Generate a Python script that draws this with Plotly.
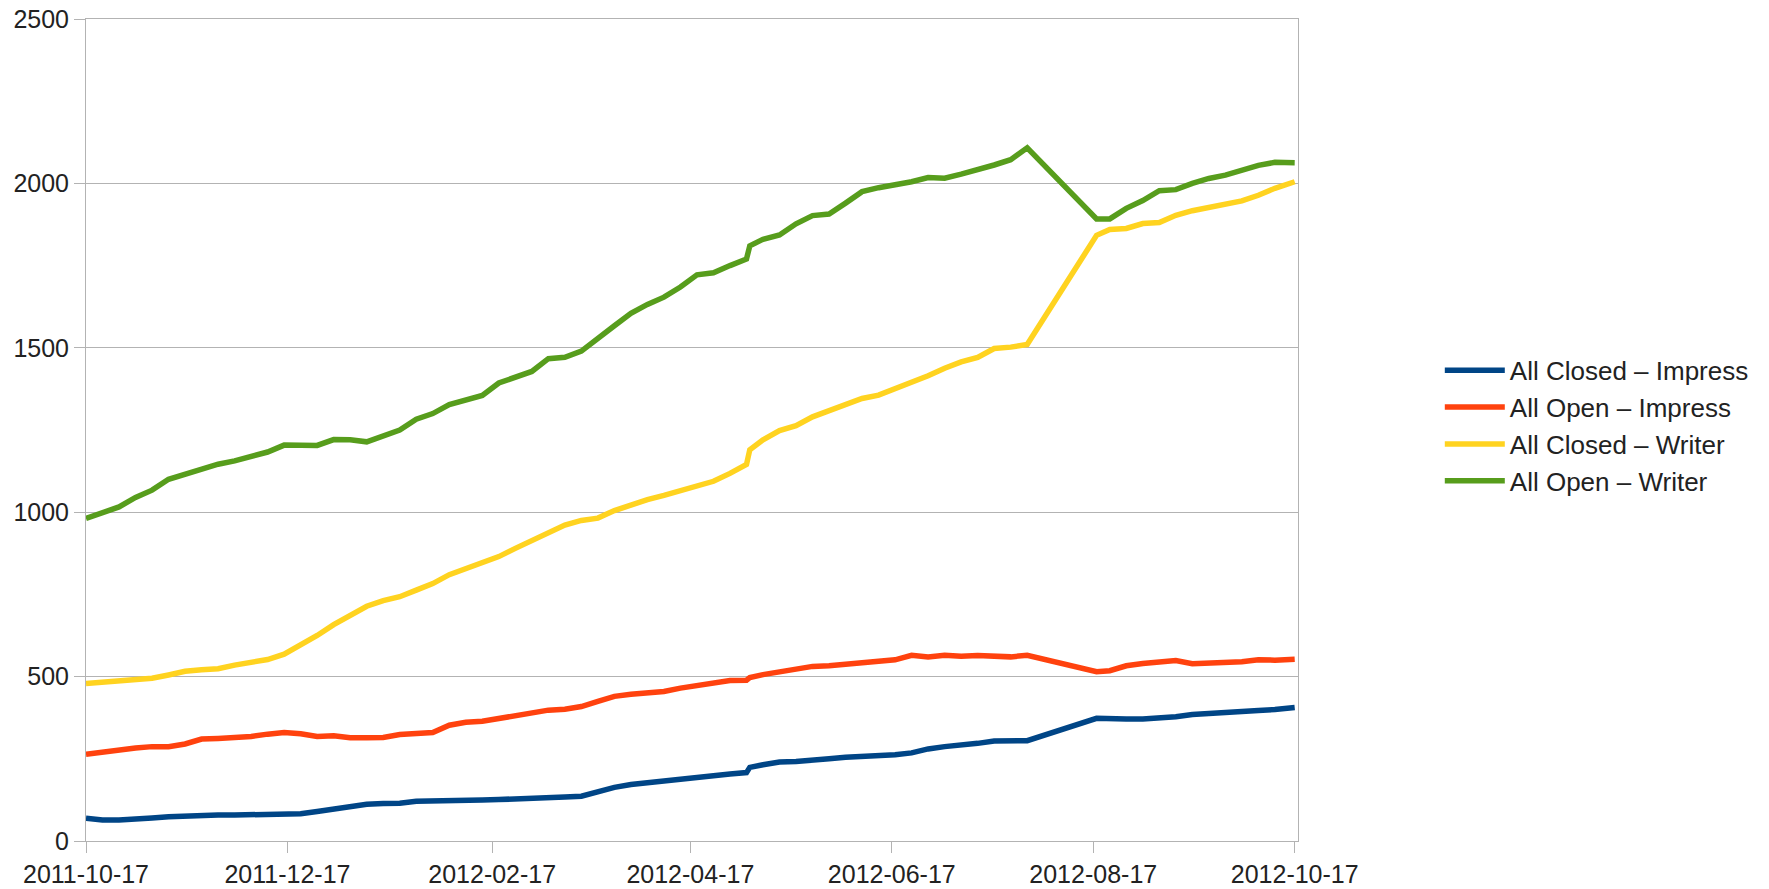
import plotly.graph_objects as go

dates = [
    "2011-10-17", "2011-10-22", "2011-10-27", "2011-11-01", "2011-11-06", "2011-11-11",
    "2011-11-16", "2011-11-21", "2011-11-26", "2011-12-01", "2011-12-06", "2011-12-11",
    "2011-12-16", "2011-12-21", "2011-12-26", "2011-12-31", "2012-01-05", "2012-01-10",
    "2012-01-15", "2012-01-20", "2012-01-25", "2012-01-30", "2012-02-04", "2012-02-09",
    "2012-02-14", "2012-02-19", "2012-02-24", "2012-02-29", "2012-03-05", "2012-03-10",
    "2012-03-15", "2012-03-20", "2012-03-25", "2012-03-30", "2012-04-04", "2012-04-09",
    "2012-04-14", "2012-04-19", "2012-04-24", "2012-04-29", "2012-05-04", "2012-05-05",
    "2012-05-09", "2012-05-14", "2012-05-19", "2012-05-24", "2012-05-29", "2012-06-03",
    "2012-06-08", "2012-06-13", "2012-06-18", "2012-06-23", "2012-06-28", "2012-07-03",
    "2012-07-08", "2012-07-13", "2012-07-18", "2012-07-23", "2012-07-28",
    "2012-08-18", "2012-08-22", "2012-08-27", "2012-09-01", "2012-09-06", "2012-09-11",
    "2012-09-16", "2012-09-21", "2012-09-26", "2012-10-01", "2012-10-06", "2012-10-11",
    "2012-10-17",
]

closed_impress = [
    69, 64, 64, 69, 70, 74, 77, 78, 79, 79, 80, 81,
    82, 83, 90, 97, 107, 112, 114, 115, 121, 123, 125, 127,
    125, 126, 127, 129, 133, 134, 136, 150, 163, 172, 178, 184,
    188, 192, 198, 204, 208, 224, 232, 240, 242, 244, 250, 255,
    256, 259, 262, 268, 280, 287, 291, 297, 304, 305, 305,
    373, 371, 371, 371, 373, 378, 385, 389, 393, 396, 397, 400,
    406,
]

open_impress = [
    264, 271, 278, 283, 287, 287, 295, 310, 312, 313, 318, 325,
    330, 326, 318, 320, 314, 314, 315, 324, 327, 330, 352, 361,
    364, 372, 382, 386, 398, 401, 409, 425, 440, 446, 451, 455,
    465, 474, 481, 488, 489, 497, 506, 513, 521, 531, 533, 537,
    542, 546, 551, 565, 560, 565, 562, 564, 560, 560, 565,
    515, 518, 533, 540, 544, 549, 539, 541, 540, 545, 551, 550,
    553,
]

closed_writer = [
    479, 484, 485, 490, 495, 505, 516, 521, 524, 535, 543, 552,
    568, 595, 625, 658, 688, 714, 731, 743, 763, 783, 810, 828,
    850, 865, 890, 915, 936, 961, 975, 982, 1005, 1022, 1038, 1051,
    1064, 1077, 1094, 1118, 1145, 1190, 1220, 1248, 1263, 1290, 1309, 1327,
    1346, 1356, 1375, 1393, 1415, 1438, 1457, 1471, 1498, 1502, 1510,
    1842, 1860, 1863, 1878, 1881, 1903, 1917, 1927, 1941, 1947, 1964, 1985,
    2005,
]

open_writer = [
    981, 998, 1016, 1045, 1067, 1100, 1116, 1128, 1146, 1156, 1171, 1183,
    1204, 1205, 1203, 1221, 1220, 1214, 1230, 1250, 1283, 1300, 1327, 1340,
    1355, 1393, 1412, 1428, 1467, 1471, 1490, 1526, 1567, 1605, 1632, 1654,
    1685, 1722, 1728, 1750, 1770, 1810, 1830, 1843, 1877, 1902, 1907, 1940,
    1975, 1987, 1995, 2005, 2018, 2016, 2028, 2040, 2056, 2072, 2108,
    1892, 1892, 1924, 1948, 1978, 1981, 2000, 2015, 2025, 2040, 2055, 2064,
    2063,
]

series_names = ["All Closed – Impress", "All Open – Impress", "All Closed – Writer", "All Open – Writer"]
series_values = [closed_impress, open_impress, closed_writer, open_writer]
series_colors = ["#004586", "#ff420e", "#ffd320", "#579d1c"]

x_tick_labels = ["2011-10-17", "2011-12-17", "2012-02-17", "2012-04-17",
                 "2012-06-17", "2012-08-17", "2012-10-17"]
y_tick_values = [0, 500, 1000, 1500, 2000, 2500]

fig = go.Figure()
for name, vals, color in zip(series_names, series_values, series_colors):
    fig.add_trace(go.Scatter(
        x=dates, y=vals, name=name, mode="lines",
        line=dict(color=color, width=5.5),
    ))

font_family = "Liberation Sans, Arial, sans-serif"
fig.update_layout(
    width=1769, height=889,
    margin=dict(l=86, r=471, t=19, b=48, autoexpand=False),
    paper_bgcolor="white", plot_bgcolor="white",
    font=dict(family=font_family, size=25, color="#222222"),
    showlegend=True,
    legend=dict(
        x=1.117, xanchor="left", y=0.505, yanchor="middle",
        font=dict(size=26, color="#222222"),
        itemwidth=60, tracegroupgap=0,
        bgcolor="rgba(0,0,0,0)",
    ),
    xaxis=dict(
        type="date", automargin=False,
        range=["2011-10-17", "2012-10-18"],
        tickmode="array", tickvals=x_tick_labels, ticktext=x_tick_labels,
        showgrid=False, zeroline=False,
        showline=True, linecolor="#b3b3b3", linewidth=1, mirror=True,
        ticks="outside", ticklen=11, tickcolor="#b3b3b3", tickwidth=1,
        tickfont=dict(size=25), ticklabeloverflow="allow",
    ),
    yaxis=dict(
        range=[0, 2500], automargin=False,
        tickmode="array", tickvals=y_tick_values,
        showgrid=True, gridcolor="#b3b3b3", gridwidth=1,
        zeroline=False,
        showline=True, linecolor="#b3b3b3", linewidth=1, mirror=True,
        ticks="outside", ticklen=11, tickcolor="#b3b3b3", tickwidth=1,
        tickfont=dict(size=25), ticklabeloverflow="allow",
    ),
)

fig.write_html(
    "out.html",
    config={"displayModeBar": False},
    post_script="document.body.style.margin='0'; document.body.style.overflow='hidden';",
)
